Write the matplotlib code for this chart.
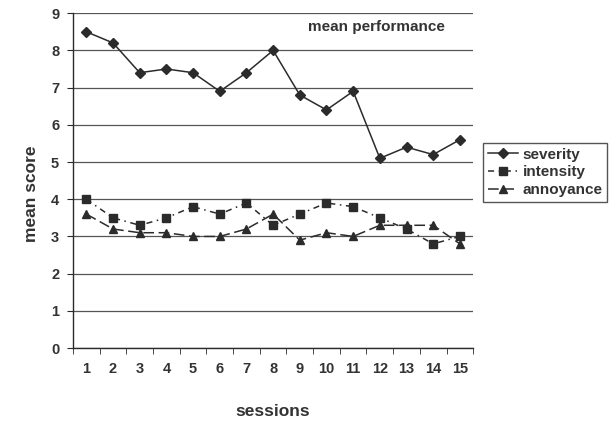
import numpy as np
import matplotlib.pyplot as plt

plt.rcParams['font.family'] = ['Liberation Sans', 'DejaVu Sans']

sessions = np.arange(1, 16)
severity = [8.5, 8.2, 7.4, 7.5, 7.4, 6.9, 7.4, 8.0, 6.8, 6.4, 6.9, 5.1, 5.4, 5.2, 5.6]
intensity = [4.0, 3.5, 3.3, 3.5, 3.8, 3.6, 3.9, 3.3, 3.6, 3.9, 3.8, 3.5, 3.2, 2.8, 3.0]
annoyance = [3.6, 3.2, 3.1, 3.1, 3.0, 3.0, 3.2, 3.6, 2.9, 3.1, 3.0, 3.3, 3.3, 3.3, 2.8]

ink = '#2b2b2b'

fig = plt.figure(figsize=(6.11, 4.25), dpi=100)
ax = fig.add_axes([0.1195, 0.181, 0.655, 0.788])

ax.plot(sessions, severity, color=ink, lw=1.1, ls='-', marker='D', ms=5, label='severity')
ax.plot(sessions, intensity, color=ink, lw=1.1, ls=(0, (4, 3, 1, 3)), marker='s', ms=6, label='intensity')
ax.plot(sessions, annoyance, color=ink, lw=1.1, ls=(0, (7, 3)), marker='^', ms=6, label='annoyance')

ax.set_xlim(0.5, 15.5)
ax.set_ylim(0, 9)
ax.set_yticks(range(0, 10))
ax.set_xticks(sessions)
ax.set_xticks(np.arange(0.5, 16, 1), minor=True)
ax.tick_params(axis='x', which='major', length=0, pad=10)
ax.tick_params(axis='x', which='minor', length=4, direction='out', color=ink)
ax.tick_params(axis='y', length=4, direction='out', color=ink, pad=6)
for lab in ax.get_xticklabels() + ax.get_yticklabels():
    lab.set_fontsize(10.5)
    lab.set_fontweight('bold')
    lab.set_color('#333333')

ax.grid(axis='y', color='#555555', lw=0.9)
ax.set_axisbelow(True)
for s in ['top', 'right']:
    ax.spines[s].set_visible(False)
for s in ['left', 'bottom']:
    ax.spines[s].set_color(ink)
    ax.spines[s].set_linewidth(1)

ax.set_ylabel('mean score', fontsize=12.5, fontweight='bold', color='#333333')
ax.yaxis.set_label_coords(-0.085, 0.46)
ax.set_xlabel('sessions', fontsize=12.5, fontweight='bold', color='#333333', labelpad=20)
ax.text(0.93, 0.96, 'mean performance', transform=ax.transAxes, ha='right', va='center',
        fontsize=11, fontweight='bold', color='#333333')

leg = fig.legend(loc='upper left', bbox_to_anchor=(483 / 611, 1 - 143 / 425), fontsize=11,
                 frameon=True, fancybox=False, edgecolor=ink, handlelength=2.0,
                 handletextpad=0.3, borderpad=0.3, labelspacing=0.25, borderaxespad=0)
leg.get_frame().set_linewidth(1)
for t in leg.get_texts():
    t.set_fontweight('bold')
    t.set_color('#333333')

fig.savefig('out.png', dpi=100)
